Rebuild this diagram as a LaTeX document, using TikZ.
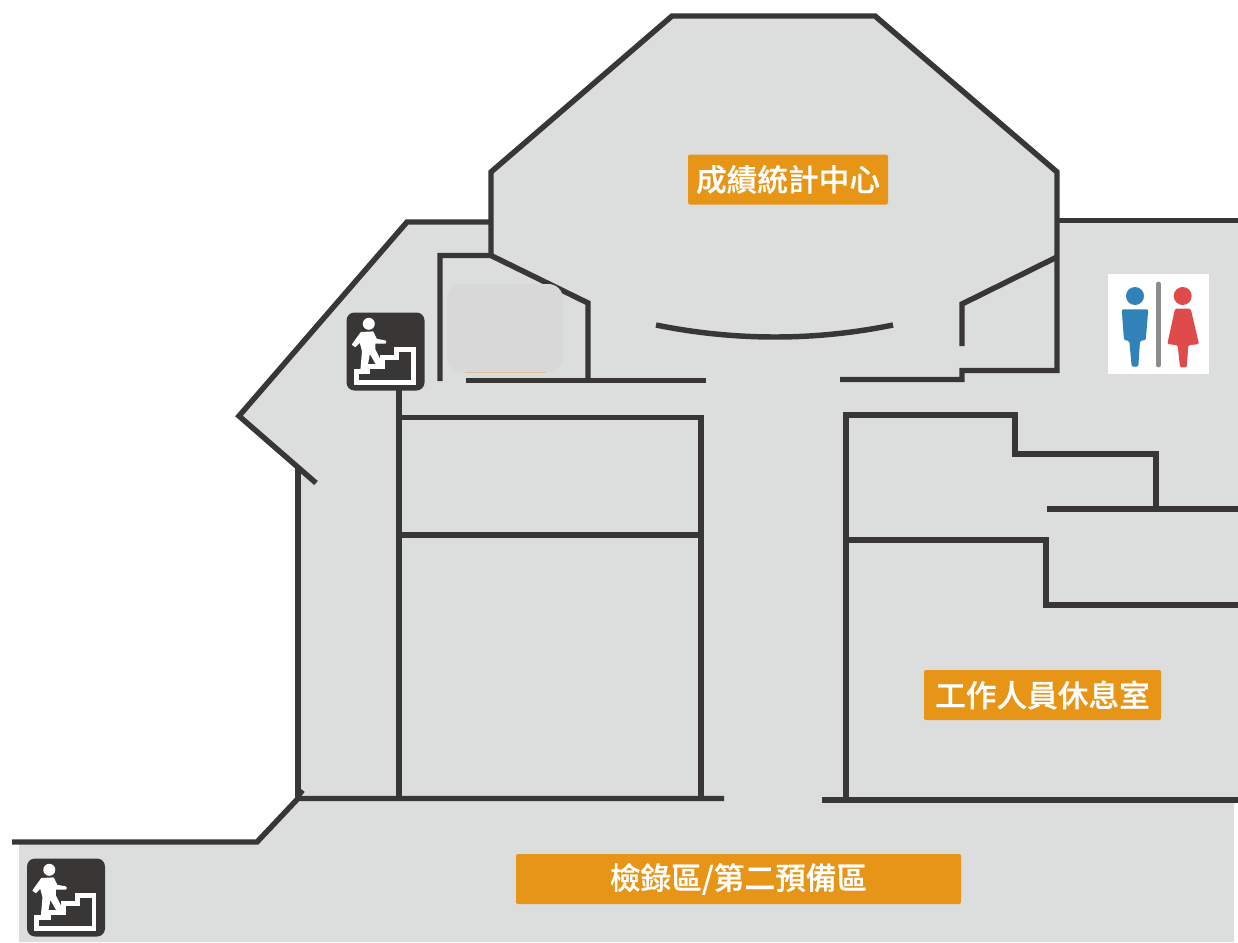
\documentclass[tikz,border=0pt]{standalone}
\usepackage{fontspec}
\newfontfamily\cjk[RawFeature={embolden=0.5}]{Noto Sans CJK TC Medium}
\definecolor{floor}{HTML}{DCDEDD}
\definecolor{wall}{HTML}{383735}
\definecolor{tag}{HTML}{E69516}
\definecolor{blob}{HTML}{D8D8D8}
\definecolor{manc}{HTML}{3082B8}
\definecolor{womanc}{HTML}{DE4B4B}
\tikzset{
  wallline/.style={draw=wall,line width=4.1pt,line join=miter},
  tagbox/.style={fill=tag,text=white,rounded corners=1.5pt,minimum height=37.5pt,inner sep=0pt,font=\cjk\fontsize{23pt}{25pt}\selectfont},
  stairicon/.pic={
    \fill[wall,rounded corners=6pt] (0,0) rectangle (78,78);
    \fill[white] (22.3,11.3) circle[radius=6];
    \filldraw[white,line width=1.2pt,line join=round] (6.3,32)--(14.7,20.3)--(26.3,19.7)--(29.7,27)--(38.7,28.7)--(38.7,30.3)--(28,30.3)--(28,37)--(34.7,50.3)--(30.3,52)--(23,39.3)--(19.7,57)--(14.7,57)--(16.3,38.7)--(13.7,28.7)--(8.7,33.7)--cycle;
    \draw[white,line width=3.5pt,line join=miter] (9.7,69.7)--(67,69.7)--(67,36.7)--(50.3,36.7)--(50.3,44.7)--(36.3,44.7)--(36.3,53.7)--(21.3,53.7)--(21.3,59.3)--(9.7,59.3)--cycle;
  }
}
\begin{document}
\begin{tikzpicture}[x=0.75pt,y=-0.75pt]
\useasboundingbox (0,0) rectangle (1238,942);
% floor
\fill[floor] (672,16)--(875,16)--(1057,172)--(1057,220)--(1238,220)--(1238,800)--(1234,804)--(1234,942)--(19,942)--(19,842)--(257,842)--(298,797)--(298,468)--(238,416)--(407,222)--(491,222)--(491,172)--cycle;
% walls
\draw[wallline] (491,256)--(491,172)--(672,16)--(875,16)--(1057,172)--(1057,370.5)--(962,370.5)--(962,379.5)--(840,379.5);
\draw[wallline] (1057,220.5)--(1238,220.5);
\draw[wallline] (1057,257)--(962,304)--(962,346);
\draw[wallline] (491,222)--(407,222)--(239,416)--(316,483);
\draw[wallline] (298,468)--(298,797);
\draw[wallline] (298,790)--(303,794);
\draw[wallline] (440,381)--(440,255.5)--(491,255.5)--(588,303)--(588,381);
\draw[wallline] (466,380.5)--(706,380.5);
\draw[wallline] (656,325) .. controls (735,341) and (815,341) .. (893,325);
\draw[wallline] (399,388)--(399,798);
\draw[wallline] (399,417.5)--(701,417.5)--(701,798);
\draw[wallline] (399,535)--(701,535);
\draw[wallline] (724,798.5)--(298,798.5)--(257,842)--(12,842);
\draw[wallline] (822,800)--(1238,800);
\draw[wallline] (846,800)--(846,415)--(1015,415)--(1015,454)--(1156,454)--(1156,509);
\draw[wallline] (1047,509)--(1238,509);
\draw[wallline] (846,540)--(1046,540)--(1046,605)--(1238,605);
% masked patch
\draw[tag,line width=0.9pt] (465,372.8)--(546,372.8);
\fill[blob,rounded corners=11pt] (447,284) rectangle (563,372.5);
% stairs
\pic at (346.5,312.5) {stairicon};
\pic at (27,858.5) {stairicon};
% restroom sign
\fill[white] (1108,274) rectangle (1209,374);
\fill[manc] (1135,296) circle[radius=9];
\fill[manc,rounded corners=1pt] (1121.7,309.3)--(1148.3,309.3)--(1145.7,340)--(1140,341)--(1138.3,366.7)--(1131.7,366.7)--(1129.3,341)--(1124,340)--cycle;
\draw[color=black!45,line width=3.6pt,line cap=round] (1158.7,284)--(1158.7,365);
\fill[womanc] (1182.7,296) circle[radius=9];
\fill[womanc,rounded corners=1pt] (1175,308.7)--(1190.7,308.7)--(1199,344)--(1188.3,345.3)--(1186.7,367.3)--(1180,367.3)--(1177.7,345.3)--(1167.3,344)--cycle;
% labels
\node[tagbox,minimum width=150pt] (stats) at (788,179.5) {成績統計中心};
\node[tagbox,minimum width=177.75pt] (staff) at (1042.5,695) {工作人員休息室};
\node[tagbox,minimum width=333.75pt] (check) at (738.5,879) {檢錄區/第二預備區};
\end{tikzpicture}
\end{document}
